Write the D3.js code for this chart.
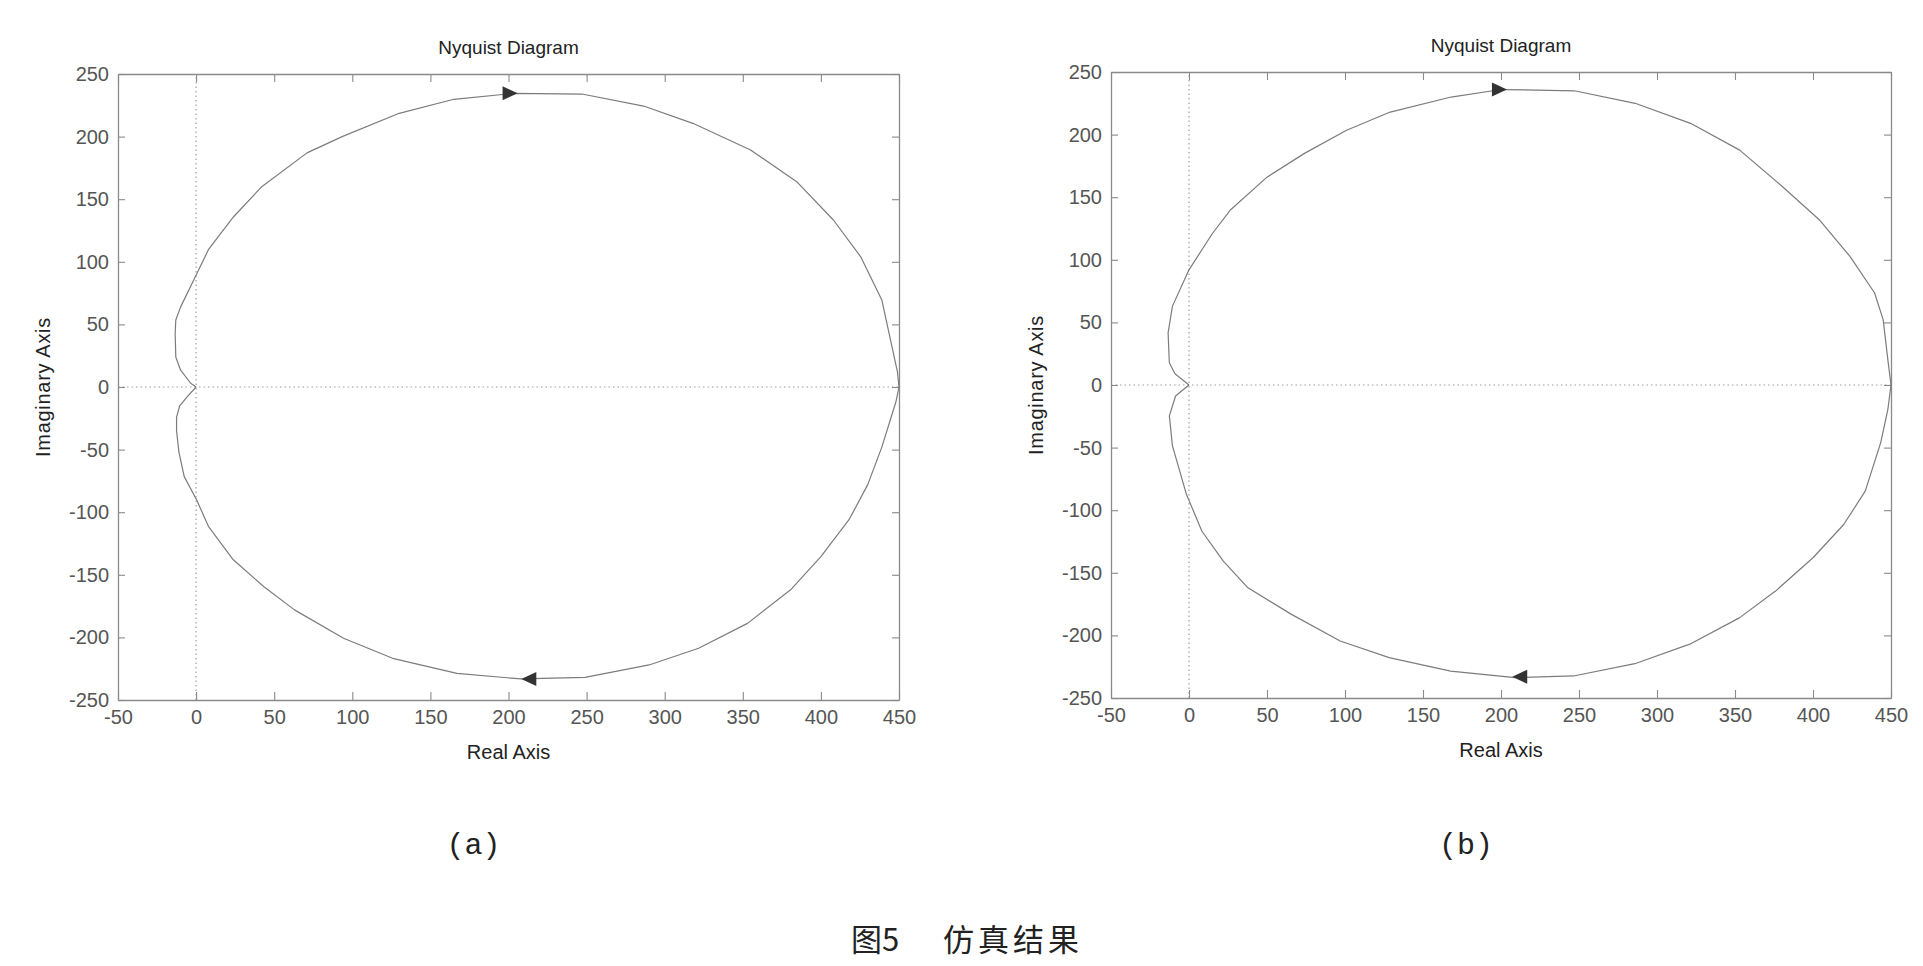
<!DOCTYPE html>
<html><head><meta charset="utf-8">
<script src="https://cdn.jsdelivr.net/npm/d3@7/dist/d3.min.js"></script>
<style>body{margin:0;background:#fff;overflow:hidden}</style>
</head><body>
<svg id="chart" width="1923" height="966"></svg>
<script>
// ---------- data ----------
const xTicks = [-50, 0, 50, 100, 150, 200, 250, 300, 350, 400, 450];
const yTicks = [-250, -200, -150, -100, -50, 0, 50, 100, 150, 200, 250];
const titleText = "Nyquist Diagram";
const xLabelText = "Real Axis";
const yLabelText = "Imaginary Axis";
const panelLabels = ["(a)", "(b)"];
const captionNo = "图5";
const captionText = "仿真结果";

// panel (a): upper branch (origin -> 450), lower branch (450 -> origin)  [Re, Im]
const upperA = [[0,0],[-3.5,3],[-10,13.6],[-13,24],[-13.4,43],[-13,53.5],[-9.9,64],[-0.5,88],[8,110],
  [24,136],[42,160],[71,187],[93.5,200],[130,218.6],[165,229.8],[204,234.6],[247,234],[286.5,224.4],
  [318,210.6],[355,189.3],[384.5,164],[408,133.4],[425.5,104],[439,69.5],[445,35],[449,12],[450,0]];
const lowerA = [[450,0],[448,-12],[445,-24],[439,-48],[430,-78],[418,-106],[400,-135.5],[380.6,-162],
  [353,-188.8],[321.7,-208.7],[290,-222],[249,-231.9],[215,-233],[208,-233.2],[167,-228.7],[125.8,-216.7],
  [94.4,-200.7],[63,-178],[43.4,-159.5],[23.8,-138],[8,-111.6],[0.3,-90],[-7.6,-71.6],[-11,-52],
  [-12.5,-35],[-12.5,-24],[-10.5,-15],[-5.5,-7.5],[0,0]];
const arrowsA = [[201,234.6,1],[213,-233.2,-1]];   // [Re, Im, direction]

// panel (b)
const upperB = [[0,0],[-4,4],[-9,9],[-12.6,17.8],[-13.4,41.7],[-10.6,63],[0,92],[15,121],[26.7,140],
  [50,166],[74,185],[101,203.5],[129,218],[168,230],[200,236],[247,235],[286,225],[321.5,209],
  [353,187.6],[380.5,158.4],[404,132],[423.7,102.7],[439.5,73.5],[445,52],[448,20],[450,0]];
const lowerB = [[450,0],[448,-19.4],[443.4,-46],[433.5,-84.8],[419.7,-111.4],[400,-138],[376,-164.6],
  [352.8,-186],[321,-207],[285.8,-222.6],[246.5,-232.4],[209,-233.7],[167.7,-228.5],[128.3,-217.8],
  [96.9,-204.5],[65.4,-183],[37.8,-162],[22,-140.7],[8.3,-116.8],[-1.6,-87.5],[-10.6,-48.6],
  [-12.6,-24.7],[-8.6,-8.8],[-4,-4],[0,0]];
const arrowsB = [[199,236,1],[212,-233,-1]];

// ---------- drawing ----------
const svg = d3.select("#chart");
const panels = [
  {upper: upperA, lower: lowerA, arrows: arrowsA, label: panelLabels[0],
   left: 118, right: 899, top: 74, bottom: 700},
  {upper: upperB, lower: lowerB, arrows: arrowsB, label: panelLabels[1],
   left: 1111, right: 1891, top: 72, bottom: 698}
];
const tickFont = "'Liberation Sans', Arial, sans-serif";
const fmt = d => String(d);

panels.forEach(p => {
  const x = d3.scaleLinear().domain([-50, 450]).range([p.left, p.right]);
  const y = d3.scaleLinear().domain([-250, 250]).range([p.bottom, p.top]);
  const g = svg.append("g");

  // zero lines (dotted)
  g.append("line").attr("x1", x(-50)).attr("x2", x(450)).attr("y1", y(0)).attr("y2", y(0))
    .attr("stroke", "#a0a0a0").attr("stroke-width", 1.2).attr("stroke-dasharray", "1.5,3");
  g.append("line").attr("x1", x(0)).attr("x2", x(0)).attr("y1", y(-250)).attr("y2", y(250))
    .attr("stroke", "#a0a0a0").attr("stroke-width", 1.2).attr("stroke-dasharray", "1.5,3");

  const styleAxis = sel => {
    sel.selectAll(".domain").attr("stroke", "#8a8a8a").attr("stroke-width", 1.3);
    sel.selectAll(".tick line").attr("stroke", "#8a8a8a").attr("stroke-width", 1.1);
    sel.selectAll("text").attr("fill", "#555").attr("font-family", tickFont).attr("font-size", 20);
  };

  g.append("g").attr("transform", `translate(0,${p.bottom})`)
    .call(d3.axisBottom(x).tickValues(xTicks).tickFormat(fmt).tickSizeInner(-8).tickSizeOuter(0).tickPadding(10))
    .call(styleAxis);
  g.append("g").attr("transform", `translate(0,${p.top})`)
    .call(d3.axisTop(x).tickValues(xTicks).tickFormat("").tickSizeInner(-8).tickSizeOuter(0))
    .call(styleAxis);
  g.append("g").attr("transform", `translate(${p.left},0)`)
    .call(d3.axisLeft(y).tickValues(yTicks).tickFormat(fmt).tickSizeInner(-7).tickSizeOuter(0).tickPadding(9))
    .call(styleAxis);
  g.append("g").attr("transform", `translate(${p.right},0)`)
    .call(d3.axisRight(y).tickValues(yTicks).tickFormat("").tickSizeInner(-7).tickSizeOuter(0))
    .call(styleAxis);

  // curves
  const line = d3.line().x(d => x(d[0])).y(d => y(d[1]));
  [p.upper, p.lower].forEach(arr => {
    g.append("path").datum(arr).attr("d", line).attr("fill", "none")
      .attr("stroke", "#7c7c7c").attr("stroke-width", 1.2).attr("stroke-linejoin", "round");
  });

  // arrows
  g.selectAll("path.arrow").data(p.arrows).enter().append("path").attr("class", "arrow")
    .attr("d", "M-7.5,-7L7.5,0L-7.5,7Z")
    .attr("transform", d => `translate(${x(d[0])},${y(d[1])}) scale(${d[2]},1)`)
    .attr("fill", "#333");

  const cx = (p.left + p.right) / 2;
  // title
  g.append("text").attr("x", cx).attr("y", p.top - 20).attr("text-anchor", "middle")
    .attr("font-family", tickFont).attr("font-size", 19).attr("fill", "#222").text(titleText);
  // x label
  g.append("text").attr("x", cx).attr("y", p.bottom + 59).attr("text-anchor", "middle")
    .attr("font-family", tickFont).attr("font-size", 20).attr("fill", "#222").text(xLabelText);
  // y label
  const cy = (p.top + p.bottom) / 2;
  g.append("text").attr("transform", `translate(${p.left - 68},${cy}) rotate(-90)`)
    .attr("text-anchor", "middle").attr("font-family", tickFont).attr("font-size", 20)
    .attr("letter-spacing", 0.7).attr("fill", "#222").text(yLabelText);
  // panel label
  g.append("text").attr("x", cx - 35).attr("y", 846).attr("text-anchor", "middle")
    .attr("dominant-baseline", "central")
    .attr("font-family", "'Liberation Mono', 'DejaVu Sans Mono', monospace").attr("font-size", 30)
    .attr("fill", "#222").text(p.label);
});

// caption
svg.append("text").attr("x", 851).attr("y", 937).attr("dominant-baseline", "central")
  .attr("font-family", "'Noto Sans CJK SC', sans-serif").attr("font-size", 31).attr("fill", "#222")
  .text(captionNo);
svg.append("text").attr("x", 943).attr("y", 937).attr("dominant-baseline", "central")
  .attr("font-family", "'Noto Sans CJK SC', sans-serif").attr("font-size", 31).attr("letter-spacing", 4)
  .attr("fill", "#222").text(captionText);
</script>
</body></html>
